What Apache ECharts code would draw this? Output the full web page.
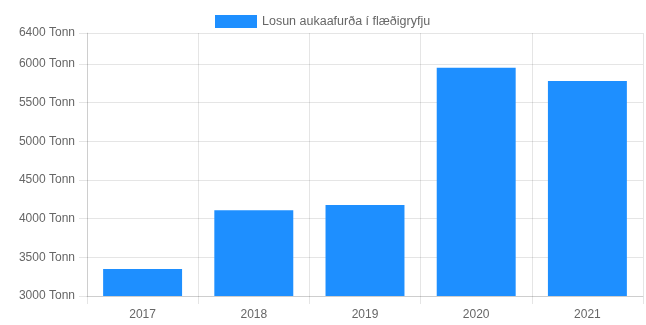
<!DOCTYPE html>
<html>
<head>
<meta charset="utf-8">
<script src="https://cdn.jsdelivr.net/npm/echarts@6/dist/echarts.min.js"></script>
<style>
  html, body { margin: 0; padding: 0; background: #fff; }
  #chart { width: 646px; height: 325px; }
</style>
</head>
<body>
<div id="chart"></div>
<script>
// Annual discharge of by-products into the tailings pond (tonnes)
const years = ['2017', '2018', '2019', '2020', '2021'];
const discharge = [3350, 4110, 4175, 5950, 5780];
const seriesName = 'Losun aukaafurða í flæðigryfju';
const unit = 'Tonn';

const gridColor = 'rgba(0,0,0,0.1)';
const textColor = '#666';
const font = '"Liberation Sans", Arial, Helvetica, sans-serif';

const chart = echarts.init(document.getElementById('chart'), null, { renderer: 'canvas' });
chart.setOption({
  animation: false,
  textStyle: { fontFamily: font },
  legend: {
    top: 10,
    left: 210,
    itemWidth: 42,
    itemHeight: 13,
    itemGap: 10,
    icon: 'rect',
    textStyle: { color: textColor, fontSize: 12.5, fontFamily: font },
    data: [seriesName]
  },
  grid: { left: 87, right: 3, top: 33, bottom: 29, containLabel: false },
  xAxis: {
    type: 'category',
    data: years,
    axisLine: { show: true, lineStyle: { color: gridColor } },
    axisTick: { show: true, length: 8, lineStyle: { color: gridColor } },
    axisLabel: { color: textColor, fontSize: 12, margin: 13, fontFamily: font },
    splitLine: { show: true, lineStyle: { color: gridColor } }
  },
  yAxis: {
    type: 'value',
    min: 3000,
    max: 6400,
    interval: 500,
    axisLine: { show: true, lineStyle: { color: gridColor } },
    axisTick: { show: true, length: 8, lineStyle: { color: gridColor } },
    axisLabel: {
      color: textColor, fontSize: 12, margin: 12, fontFamily: font,
      showMaxLabel: true,
      formatter: function (v) { return v + ' ' + unit; }
    },
    splitLine: { show: true, lineStyle: { color: gridColor } }
  },
  series: [{
    name: seriesName,
    type: 'bar',
    data: discharge,
    barWidth: '71%',
    itemStyle: { color: '#1e8fff' }
  }]
});
</script>
</body>
</html>
